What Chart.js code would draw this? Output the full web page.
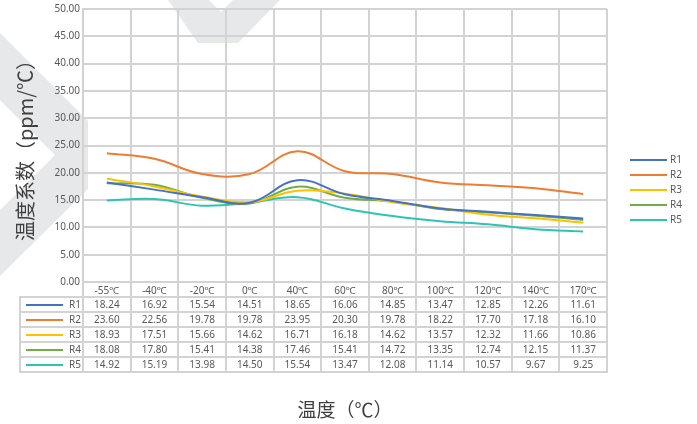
<!DOCTYPE html>
<html>
<head>
<meta charset="utf-8">
<script src="https://cdn.jsdelivr.net/npm/chart.js@4.4.1/dist/chart.umd.min.js"></script>
<style>
  html, body { margin: 0; padding: 0; background: #fff; }
</style>
</head>
<body>
<canvas id="tcChart" width="697" height="424"></canvas>
<script>
const categories = ['-55℃', '-40℃', '-20℃', '0℃', '40℃', '60℃', '80℃', '100℃', '120℃', '140℃', '170℃'];
const seriesNames = ['R1', 'R2', 'R3', 'R4', 'R5'];
const r1 = [18.24, 16.92, 15.54, 14.51, 18.65, 16.06, 14.85, 13.47, 12.85, 12.26, 11.61];
const r2 = [23.60, 22.56, 19.78, 19.78, 23.95, 20.30, 19.78, 18.22, 17.70, 17.18, 16.10];
const r3 = [18.93, 17.51, 15.66, 14.62, 16.71, 16.18, 14.62, 13.57, 12.32, 11.66, 10.86];
const r4 = [18.08, 17.80, 15.41, 14.38, 17.46, 15.41, 14.72, 13.35, 12.74, 12.15, 11.37];
const r5 = [14.92, 15.19, 13.98, 14.50, 15.54, 13.47, 12.08, 11.14, 10.57, 9.67, 9.25];
const seriesColors = ['#4472c4', '#ed7d31', '#ffc000', '#70ad47', '#2ec4b4'];
const yMin = 0, yMax = 50, yStep = 5;

const gridColor = '#d3d3d3';
const textColor = '#595959';
const labelFont = "'Noto Sans', 'Noto Sans CJK SC', sans-serif";
const cjkFont = "'Noto Sans CJK SC', sans-serif";

// light grey logo shapes behind the plot
const watermark = {
  id: 'watermark',
  beforeDraw(chart) {
    const ctx = chart.ctx;
    ctx.save();
    ctx.fillStyle = '#e7e8ea';
    ctx.beginPath();
    ctx.moveTo(0, 33);
    ctx.lineTo(88, 121);
    ctx.lineTo(88, 189);
    ctx.lineTo(0, 276);
    ctx.lineTo(0, 210);
    ctx.lineTo(55, 155);
    ctx.lineTo(0, 100);
    ctx.closePath();
    ctx.fill();
    ctx.beginPath();
    ctx.moveTo(168, 0);
    ctx.lineTo(198, 43);
    ctx.lineTo(238, 43);
    ctx.lineTo(280, 0);
    ctx.lineTo(233, 0);
    ctx.lineTo(221, 12);
    ctx.lineTo(209, 0);
    ctx.closePath();
    ctx.fill();
    ctx.restore();
  }
};

// data table under the plot, columns taken from the x scale
const dataTable = {
  id: 'dataTable',
  afterDraw(chart) {
    const ctx = chart.ctx;
    const xs = chart.scales.x;
    const area = chart.chartArea;
    const step = (area.right - area.left) / categories.length;
    const headH = 15, rowH = 15, tableLeft = 20;
    const top = area.bottom;
    const bodyTop = top + headH;
    const bottom = bodyTop + rowH * chart.data.datasets.length;

    ctx.save();
    ctx.strokeStyle = gridColor;
    ctx.lineWidth = 2;
    ctx.beginPath();
    for (let i = 0; i <= chart.data.datasets.length; i++) {
      const y = bodyTop + i * rowH;
      ctx.moveTo(tableLeft, y);
      ctx.lineTo(area.right + 1, y);
    }
    ctx.moveTo(tableLeft, bodyTop - 1);
    ctx.lineTo(tableLeft, bottom + 1);
    for (let i = 0; i <= categories.length; i++) {
      const x = Math.round(area.left + i * step);
      ctx.moveTo(x, top);
      ctx.lineTo(x, bottom + 1);
    }
    ctx.stroke();

    ctx.font = '10px ' + labelFont;
    ctx.textBaseline = 'middle';
    chart.data.datasets.forEach((ds, r) => {
      const cy = bodyTop + r * rowH + rowH / 2 + 0.5;
      ctx.strokeStyle = ds.borderColor;
      ctx.lineWidth = 2;
      ctx.beginPath();
      ctx.moveTo(26, cy);
      ctx.lineTo(63, cy);
      ctx.stroke();
      ctx.fillStyle = textColor;
      ctx.textAlign = 'right';
      ctx.fillText(ds.label, 81, cy);
      ctx.textAlign = 'center';
      ds.data.forEach((v, c) => {
        ctx.fillText(v.toFixed(2), xs.getPixelForValue(c), cy);
      });
    });
    ctx.restore();
  }
};

// legend at the right side
const sideLegend = {
  id: 'sideLegend',
  afterDraw(chart) {
    const ctx = chart.ctx;
    ctx.save();
    ctx.font = '10px ' + labelFont;
    ctx.textBaseline = 'middle';
    ctx.textAlign = 'left';
    chart.data.datasets.forEach((ds, i) => {
      const y = 160 + i * 15;
      ctx.strokeStyle = ds.borderColor;
      ctx.lineWidth = 2;
      ctx.beginPath();
      ctx.moveTo(630, y);
      ctx.lineTo(667, y);
      ctx.stroke();
      ctx.fillStyle = textColor;
      ctx.fillText(ds.label, 670, y);
    });
    ctx.restore();
  }
};

const seriesData = [r1, r2, r3, r4, r5];

new Chart(document.getElementById('tcChart'), {
  type: 'line',
  data: {
    labels: categories,
    datasets: seriesData.map((vals, i) => ({
      label: seriesNames[i],
      data: vals,
      borderColor: seriesColors[i],
      backgroundColor: seriesColors[i],
      borderWidth: 2,
      pointRadius: 0,
      tension: 0.4,
      fill: false
    }))
  },
  options: {
    responsive: false,
    animation: false,
    layout: { padding: { top: 3, right: 90, bottom: 0, left: 0 } },
    plugins: {
      legend: { display: false },
      tooltip: { enabled: false }
    },
    scales: {
      x: {
        offset: true,
        grid: { color: gridColor, lineWidth: 2, offset: true, drawTicks: false },
        border: { color: gridColor, width: 2 },
        ticks: {
          color: textColor,
          font: { family: labelFont, size: 10 },
          padding: 3,
          maxRotation: 0,
          autoSkip: false
        },
        title: {
          display: true,
          text: '温度（℃）',
          color: '#404040',
          font: { family: cjkFont, size: 19 },
          padding: { top: 0, bottom: 3 }
        },
        afterFit(scale) { scale.height = 142; }
      },
      y: {
        min: yMin,
        max: yMax,
        grid: { color: gridColor, lineWidth: 2, drawTicks: false },
        border: { color: gridColor, width: 2 },
        ticks: {
          stepSize: yStep,
          color: textColor,
          font: { family: labelFont, size: 10 },
          padding: 3,
          callback: v => v.toFixed(2)
        },
        title: {
          display: true,
          text: '温度系数（ppm/℃）',
          color: '#404040',
          font: { family: cjkFont, size: 20 },
          padding: { top: 13, bottom: 0 }
        },
        afterFit(scale) { scale.width = 83; }
      }
    }
  },
  plugins: [watermark, dataTable, sideLegend]
});
</script>
</body>
</html>
